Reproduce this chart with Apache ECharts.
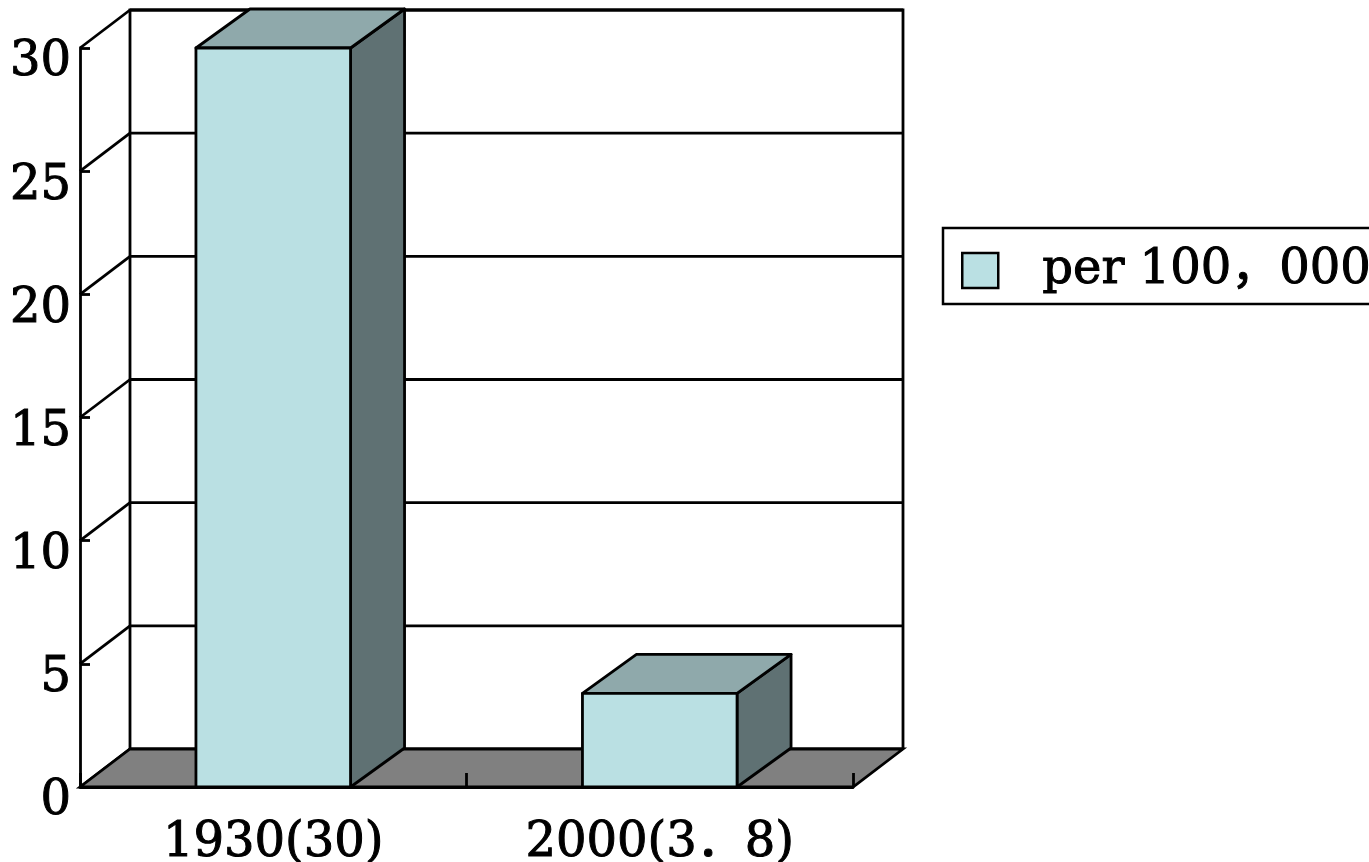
<!DOCTYPE html>
<html>
<head>
<meta charset="utf-8">
<script src="https://cdn.jsdelivr.net/npm/echarts@6/dist/echarts.min.js"></script>
<style>
  html, body { margin: 0; padding: 0; background: #fff; }
  #chart { width: 1369px; height: 862px; }
</style>
</head>
<body>
<div id="chart"></div>
<script>
// --- chart data ---
const categories = ['1930(30)', '2000(3．8)'];
const values = [30, 3.8];
const yTicks = [0, 5, 10, 15, 20, 25, 30];
const seriesName = 'per 100，000';

// 3D look (Excel style): depth offset of walls and boxes
const WALL_DX = 50, WALL_DY = -38;
const BAR_DX = 54, BAR_DY = -39;
const FONT = "'DejaVu Serif', 'Noto Sans CJK SC', serif";
const LINE = '#000';
const LW = 2.8;
const colors = { front: '#BAE0E3', top: '#8FA9AB', side: '#5F7173', floor: '#808080' };
const txt = { fontFamily: FONT, fontSize: 48, color: '#000', textBorderColor: '#000', textBorderWidth: 1 };

const chart = echarts.init(document.getElementById('chart'));

// back wall, left wall diagonals and floor
function renderFrame(params, api) {
    const cs = params.coordSys;
    const x0 = cs.x, x1 = cs.x + cs.width;
    const y0 = api.coord([0, 0])[1];
    const style = { stroke: LINE, lineWidth: LW, fill: null };
    const children = [];

    const yTop = api.coord([0, yTicks[yTicks.length - 1]])[1];
    // back wall outline
    children.push({ type: 'polyline', shape: { points: [
        [x0 + WALL_DX, y0 + WALL_DY], [x0 + WALL_DX, yTop + WALL_DY],
        [x1 + WALL_DX, yTop + WALL_DY], [x1 + WALL_DX, y0 + WALL_DY]
    ] }, style: style });

    yTicks.forEach(v => {
        const y = api.coord([0, v])[1];
        // grid line on back wall
        children.push({ type: 'line', shape: { x1: x0 + WALL_DX, y1: y + WALL_DY, x2: x1 + WALL_DX, y2: y + WALL_DY }, style: style });
        // diagonal on left wall
        children.push({ type: 'line', shape: { x1: x0, y1: y, x2: x0 + WALL_DX, y2: y + WALL_DY }, style: style });
    });

    // floor
    children.push({ type: 'polygon', shape: { points: [
        [x0, y0], [x1, y0], [x1 + WALL_DX, y0 + WALL_DY], [x0 + WALL_DX, y0 + WALL_DY]
    ] }, style: { fill: colors.floor, stroke: LINE, lineWidth: LW } });

    return { type: 'group', children: children };
}

// one 3D box per value
function renderBox(params, api) {
    const idx = api.value(0);
    const top = api.coord([idx, api.value(1)]);
    const base = api.coord([idx, 0]);
    const w = api.size([1, 0])[0] * 0.4;
    const xl = top[0] - w / 2, xr = top[0] + w / 2;
    const yt = top[1], yb = base[1];
    const st = { stroke: LINE, lineWidth: LW, lineJoin: 'round' };
    return {
        type: 'group',
        children: [
            { type: 'polygon', shape: { points: [[xr, yt], [xr + BAR_DX, yt + BAR_DY], [xr + BAR_DX, yb + BAR_DY], [xr, yb]] },
              style: Object.assign({ fill: colors.side }, st) },
            { type: 'polygon', shape: { points: [[xl, yt], [xr, yt], [xr + BAR_DX, yt + BAR_DY], [xl + BAR_DX, yt + BAR_DY]] },
              style: Object.assign({ fill: colors.top }, st) },
            { type: 'rect', shape: { x: xl, y: yt, width: w, height: yb - yt },
              style: Object.assign({ fill: colors.front }, st) }
        ]
    };
}

const option = {
    backgroundColor: '#fff',
    animation: false,
    grid: { left: 80, top: 48, width: 773, height: 739, outerBoundsMode: 'none' },
    legend: {
        data: [{ name: seriesName, icon: 'rect' }],
        left: 943,
        top: 228,
        padding: [18, 20, 9, 18],
        borderColor: '#000',
        borderWidth: 2.5,
        itemWidth: 36,
        itemHeight: 35,
        itemStyle: { color: colors.front, borderColor: '#000', borderWidth: 2.5 },
        textStyle: Object.assign({ lineHeight: 35, padding: [0, 0, 0, 39] }, txt)
    },
    xAxis: {
        type: 'category',
        data: categories,
        z: 3,
        axisLine: { lineStyle: { color: LINE, width: LW } },
        axisTick: { show: true, inside: true, length: 14, lineStyle: { color: LINE, width: LW } },
        axisLabel: Object.assign({ margin: 33 }, txt),
        splitLine: { show: false }
    },
    yAxis: {
        type: 'value',
        min: 0,
        max: 30,
        interval: 5,
        z: 3,
        axisLine: { show: true, lineStyle: { color: LINE, width: LW } },
        axisTick: { show: true, inside: true, length: 10, lineStyle: { color: LINE, width: LW } },
        axisLabel: Object.assign({ margin: 9, verticalAlign: 'top', lineHeight: 30 }, txt),
        splitLine: { show: false }
    },
    series: [
        {
            name: 'frame',
            type: 'custom',
            clip: false,
            silent: true,
            z: 1,
            renderItem: renderFrame,
            data: [[0, 0]]
        },
        {
            name: seriesName,
            type: 'custom',
            clip: false,
            z: 4,
            itemStyle: { color: colors.front },
            renderItem: renderBox,
            data: values.map((v, i) => [i, v])
        }
    ]
};

chart.setOption(option);
</script>
</body>
</html>
